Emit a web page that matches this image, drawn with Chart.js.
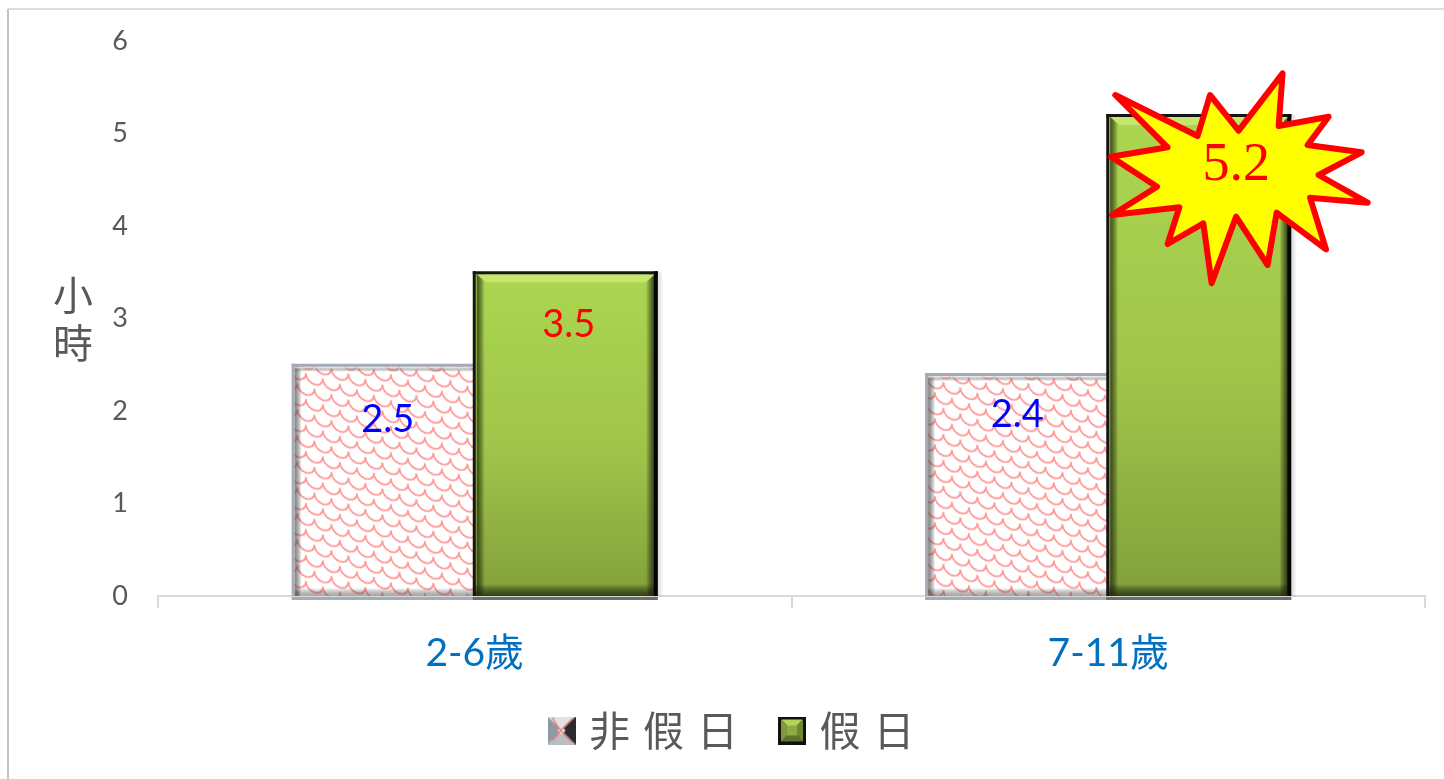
<!DOCTYPE html>
<html><head><meta charset="utf-8">
<style>html,body{margin:0;padding:0;background:#fff;overflow:hidden}canvas{display:block}</style>
<script src="https://cdn.jsdelivr.net/npm/chart.js@4"></script>
</head><body><canvas id="c" width="1444" height="779"></canvas>
<script>
const categories = ['2-6歲', '7-11歲'];
const weekdayName = '非假日';
const holidayName = '假日';
const weekdayHours = [2.5, 2.4];
const holidayHours = [3.5, 5.2];
const axisTitleChars = ['小', '時'];

// label placement relative to each bar's top centre
const labelShift = [[[4,55],[0,41]], [[3,52],[37,51]]];
// outline of the burst call-out relative to the top centre of the highlighted bar
const burst = [[-84,-20],[-1.7,21],[10.7,-20],[39.3,15.7],[83.3,-41.7],[79.3,11],[129.3,1.7],[108.3,30],[162.3,37.3],[119.3,60],[168.3,87.7],[110.7,82.7],[126.7,134.3],[77.3,97.7],[68.3,150],[36.7,101.7],[12.3,168.3],[4,108.3],[-31.7,129],[-20,92.3],[-87.3,100],[-42.3,71.7],[-88.3,41.7],[-31.7,32.3]];

function scaleTile() {
  const t = document.createElement('canvas'); t.width = 34; t.height = 26;
  const g = t.getContext('2d');
  g.fillStyle = '#fff'; g.fillRect(0,0,34,26);
  g.strokeStyle = '#ff9a9a'; g.lineWidth = 1.9;
  const centers = [];
  for (const oy of [-26, 0, 26]) {
    for (const ox of [-34, 0, 17, 34]) centers.push([ox, oy+2]);
    for (const ox of [-25.5, -8.5, 8.5, 25.5, 42.5]) centers.push([ox, oy+15]);
  }
  for (const [x,y] of centers) {
    g.beginPath(); g.arc(x, y, 8.8, 0.02*Math.PI, 0.98*Math.PI); g.stroke();
  }
  return t;
}
const tile = scaleTile();
const ctx0 = document.getElementById('c').getContext('2d');
const scalePattern = ctx0.createPattern(tile, 'repeat');
scalePattern.setTransform(new DOMMatrix([1, 0.32, 0, 1, 0, 0]));

function greenFillAt(g, t, b) {
  const gr = g.createLinearGradient(0, t, 0, b);
  gr.addColorStop(0, '#abd651'); gr.addColorStop(0.55, '#a0c44a'); gr.addColorStop(1, '#82a03b');
  return gr;
}
function greenFill(c) {
  const y = c.chart.scales.y;
  if (!y || !c.chart.chartArea || c.raw === undefined) return '#9bbb45';
  return greenFillAt(c.chart.ctx, y.getPixelForValue(c.raw), y.getPixelForValue(0));
}
function trap(g, pts, col) {
  g.fillStyle = col; g.beginPath();
  pts.forEach((p,i)=> i?g.lineTo(p[0],p[1]):g.moveTo(p[0],p[1]));
  g.closePath(); g.fill();
}
function edgeShade(g, x0, y0, x1, y1, rect, col) {
  const gr = g.createLinearGradient(x0, y0, x1, y1);
  gr.addColorStop(0, col); gr.addColorStop(1, 'rgba(0,0,0,0)');
  g.fillStyle = gr; g.fillRect(rect[0], rect[1], rect[2], rect[3]);
}
function legendSwatch(kind) {
  const s = document.createElement('canvas'); s.width = 28; s.height = 28;
  const g = s.getContext('2d');
  if (kind === 0) {
    g.fillStyle = '#c9c9c9'; g.fillRect(0,0,28,28);
    trap(g, [[0,0],[28,0],[14,14]], '#e2e2e2');
    trap(g, [[0,28],[28,28],[14,14]], '#b9bec4');
    trap(g, [[0,0],[14,14],[0,28]], '#8f99a6');
    trap(g, [[28,0],[14,14],[28,28]], '#2a2a30');
    trap(g, [[10,14],[14,10],[18,14],[14,18]], '#f2f2f2');
    g.strokeStyle = '#f07878'; g.lineWidth = 1.5;
    g.beginPath(); g.moveTo(5,1); g.quadraticCurveTo(11,14,25,26); g.moveTo(25,2); g.quadraticCurveTo(14,12,5,24); g.stroke();
  } else {
    g.fillStyle = '#111'; g.fillRect(0,0,28,28);
    const l=3,r=25,c=14;
    trap(g, [[l,l],[r,l],[c,c]], '#b3d45a');
    trap(g, [[l,r],[r,r],[c,c]], '#5d7230');
    trap(g, [[l,l],[c,c],[l,r]], '#7f9a3a');
    trap(g, [[r,l],[c,c],[r,r]], '#6f8734');
    g.fillStyle = '#8faa40'; g.fillRect(9,9,10,10);
  }
  return s;
}

const framePlugin = {
  id: 'frame',
  beforeLayout(ch) {
    const lg = ch.legend;
    if (lg && !lg._spaced) {
      lg._spaced = true;
      for (const m of ['fit', 'draw']) {
        const orig = lg[m];
        lg[m] = function (...a) {
          const c = this.ctx; c.save(); c.letterSpacing = '13px';
          const r = orig.apply(this, a); c.restore(); return r;
        };
      }
    }
  },
  beforeDraw(ch) {
    const g = ch.ctx; g.save();
    g.fillStyle = '#dcdcdc'; g.fillRect(8, 8, 1436, 2);
    g.fillStyle = '#c4c4c4'; g.fillRect(7, 9, 2, 770);
    g.restore();
  },
  afterDatasetsDraw(ch) {
    const g = ch.ctx;
    ch.data.datasets.forEach((ds, di) => {
      ch.getDatasetMeta(di).data.forEach((bar) => {
        const l = bar.x - bar.width/2, r = bar.x + bar.width/2, t = bar.y, b = bar.base;
        if (di === 0) {
          edgeShade(g, l+2, 0, l+9, 0, [l+2, t, 7, b-t], 'rgba(90,90,90,.75)');
          edgeShade(g, 0, b, 0, b-8, [l, b-8, r-l, 8], 'rgba(110,110,110,.6)');
          edgeShade(g, 0, t+2, 0, t+7, [l, t+2, r-l, 5], 'rgba(255,255,255,.9)');
          g.fillStyle = '#a3abb6';
          g.fillRect(l-1, t-1, r-l+1, 3); g.fillRect(l-1, t-1, 3, b-t+1);
          g.fillRect(l-1, b+1, r-l+1, 3);
        } else {
          edgeShade(g, l+2, 0, l+10, 0, [l+2, t, 8, b-t], 'rgba(35,45,15,.8)');
          edgeShade(g, r-2, 0, r-11, 0, [r-11, t, 9, b-t], 'rgba(25,35,10,.85)');
          edgeShade(g, 0, b, 0, b-12, [l, b-12, r-l, 12], 'rgba(35,45,15,.85)');
          trap(g, [[l+2,t+2],[r-2,t+2],[r-11,t+10],[l+11,t+10]], '#c6e66e');
          g.fillStyle = '#151515';
          g.fillRect(l-2, t-1, r-l+3, 3);
          g.fillRect(l-2, t-1, 3, b-t+1);
          g.fillStyle = '#050505';
          g.fillRect(r-3, t-1, 4, b-t+1);
          g.fillStyle = '#6b7066';
          g.fillRect(l-2, b+1, r-l+3, 3);
          edgeShade(g, r+1, 0, r+6, 0, [r+1, t, 5, b-t], 'rgba(120,120,120,.22)');
        }
      });
    });
  },
  afterDraw(ch) {
    const g = ch.ctx;
    g.save();
    const bar = ch.getDatasetMeta(1).data[1];
    g.beginPath();
    burst.forEach((p,i)=> i ? g.lineTo(bar.x+p[0], bar.y+p[1]) : g.moveTo(bar.x+p[0], bar.y+p[1]));
    g.closePath();
    g.fillStyle = '#ffff00'; g.fill();
    g.strokeStyle = '#ff0000'; g.lineWidth = 6; g.lineJoin = 'round'; g.stroke();
    g.textAlign = 'center'; g.textBaseline = 'middle';
    ch.data.datasets.forEach((ds, di) => {
      ch.getDatasetMeta(di).data.forEach((b, i) => {
        const s = labelShift[di][i];
        const hi = di === 1 && i === 1;
        g.font = hi ? '54px "Liberation Serif"' : '38px Lato';
        g.fillStyle = di === 0 ? '#0000ff' : '#ff0000';
        g.fillText(ds.data[i].toFixed(1), b.x + s[0], b.y + s[1]);
      });
    });
    g.fillStyle = '#595959'; g.font = '40px "Noto Sans CJK TC"';
    axisTitleChars.forEach((c,i)=> g.fillText(c, 73, ch.scales.y.getPixelForValue(3) + (i-0.5)*48));
    g.restore();
  }
};

new Chart(ctx0, {
  type: 'bar',
  data: {
    labels: categories,
    datasets: [
      { label: weekdayName, data: weekdayHours, backgroundColor: scalePattern, borderWidth: 0 },
      { label: holidayName, data: holidayHours, backgroundColor: greenFill, borderWidth: 0 }
    ]
  },
  options: {
    responsive: false, animation: false,
    devicePixelRatio: 1,
    layout: { padding: { left: 57, right: 19, top: 41, bottom: 18 } },
    datasets: { bar: { categoryPercentage: 0.575, barPercentage: 1 } },
    scales: {
      x: {
        grid: { display: true, drawOnChartArea: false, color: '#d9d9d9', lineWidth: 2, tickLength: 12, offset: true },
        border: { color: '#d9d9d9', width: 2 },
        ticks: { color: '#0070C0', font: { family: 'Lato, "Noto Sans CJK TC"', size: 39 }, padding: 22, maxRotation: 0 },
        afterFit(s) { s.height = 80; }
      },
      y: {
        min: 0, max: 6,
        grid: { display: false, drawTicks: false },
        border: { display: false },
        ticks: { stepSize: 1, color: '#595959', font: { family: 'Lato', size: 27 }, padding: 30 },
        afterFit(s) { s.width = 101; s.paddingTop = 0; s.paddingBottom = 0; }
      }
    },
    plugins: {
      tooltip: { enabled: false },
      title: { display: false },
      legend: {
        position: 'bottom',
        labels: {
          color: '#595959',
          font: { family: '"Noto Sans CJK TC"', size: 41 },
          usePointStyle: true, boxWidth: 14, boxHeight: 28, padding: 34,
          generateLabels(ch) {
            return ch.data.datasets.map((d, i) => ({
              text: d.label,
              fontColor: '#595959',
              pointStyle: legendSwatch(i),
              datasetIndex: i, hidden: false, lineWidth: 0
            }));
          }
        }
      }
    }
  },
  plugins: [framePlugin]
});
</script></body></html>
